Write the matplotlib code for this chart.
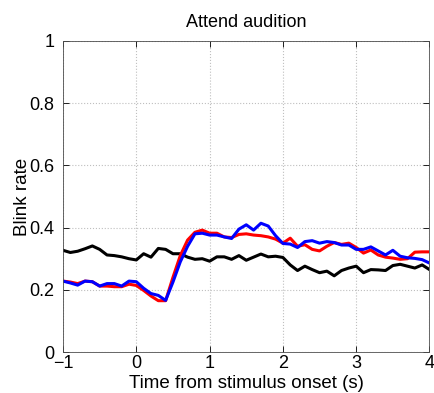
import numpy as np
import matplotlib
matplotlib.use("Agg")
import matplotlib.pyplot as plt

plt.rcParams['font.family'] = ['Liberation Sans', 'DejaVu Sans']

# time axis, 0.1 s bins
t = np.round(np.arange(-1.0, 4.05, 0.1), 2)

black = [0.327, 0.320, 0.324, 0.332, 0.341, 0.330, 0.312, 0.310, 0.306, 0.300,
         0.296, 0.316, 0.305, 0.333, 0.330, 0.316, 0.316, 0.305, 0.298, 0.300,
         0.292, 0.306, 0.306, 0.298, 0.310, 0.295, 0.305, 0.315, 0.306, 0.308,
         0.304, 0.280, 0.262, 0.276, 0.265, 0.255, 0.260, 0.245, 0.262, 0.270,
         0.276, 0.255, 0.265, 0.264, 0.262, 0.278, 0.282, 0.276, 0.270, 0.280,
         0.265]

red = [0.228, 0.225, 0.220, 0.228, 0.226, 0.212, 0.212, 0.210, 0.210, 0.218,
       0.214, 0.198, 0.180, 0.165, 0.165, 0.240, 0.310, 0.360, 0.385, 0.392,
       0.382, 0.382, 0.370, 0.368, 0.378, 0.380, 0.376, 0.374, 0.370, 0.363,
       0.350, 0.366, 0.340, 0.345, 0.330, 0.325, 0.340, 0.352, 0.346, 0.350,
       0.336, 0.318, 0.328, 0.312, 0.305, 0.302, 0.298, 0.300, 0.321, 0.322,
       0.322]

blue = [0.228, 0.222, 0.215, 0.228, 0.226, 0.212, 0.220, 0.220, 0.212, 0.228,
        0.226, 0.205, 0.188, 0.182, 0.166, 0.225, 0.290, 0.340, 0.380, 0.382,
        0.376, 0.376, 0.370, 0.365, 0.395, 0.409, 0.392, 0.414, 0.405, 0.374,
        0.349, 0.347, 0.336, 0.355, 0.358, 0.350, 0.355, 0.352, 0.344, 0.344,
        0.330, 0.330, 0.338, 0.325, 0.312, 0.327, 0.308, 0.303, 0.301, 0.297,
        0.286]

fig = plt.figure(figsize=(4.34, 3.93), dpi=100)
ax = fig.add_axes([0.1452, 0.1043, 0.8444, 0.7914])

ax.plot(t, black, color='black', lw=2.2)
ax.plot(t, red, color='red', lw=2.2)
ax.plot(t, blue, color='blue', lw=2.2)

ax.set_xlim(-1, 4)
ax.set_ylim(0, 1)
ax.set_xticks([-1, 0, 1, 2, 3, 4])
ax.set_xticklabels(['\u22121', '0', '1', '2', '3', '4'])
ax.set_yticks([0, 0.2, 0.4, 0.6, 0.8, 1])
ax.set_yticklabels(['0', '0.2', '0.4', '0.6', '0.8', '1'])
ax.grid(True, linestyle=':', color='0.75', lw=0.8)
ax.tick_params(direction='in', length=4, width=0.6, labelsize=13,
               top=True, right=True)
ax.tick_params(axis='y', pad=6)
ax.tick_params(axis='x', pad=2)
for s in ax.spines.values():
    s.set_linewidth(0.6)
    s.set_color('0.3')

ax.set_xlabel('Time from stimulus onset (s)', fontsize=13.5, labelpad=2)
ax.set_ylabel('Blink rate', fontsize=13.5, labelpad=-1)
ax.set_title('Attend audition', fontsize=13, pad=10)

fig.savefig('out.png', dpi=100)
